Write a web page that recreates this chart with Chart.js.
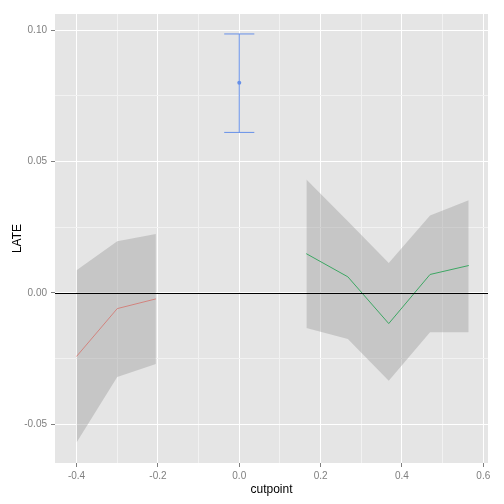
<!DOCTYPE html>
<html>
<head>
<meta charset="utf-8">
<script src="https://cdn.jsdelivr.net/npm/chart.js@4"></script>
<style>
  html, body { margin: 0; padding: 0; background: #ffffff; }
  #wrap { width: 504px; height: 504px; }
</style>
</head>
<body>
<div id="wrap"><canvas id="lateChart" width="504" height="504"></canvas></div>
<script>
// Left segment (red)
const leftX = [-0.4, -0.3, -0.205];
const leftLate = [-0.0242, -0.0060, -0.0023];
const leftUpper = [0.0086, 0.0197, 0.0224];
const leftLower = [-0.0570, -0.0320, -0.0271];

// Right segment (green)
const rightX = [0.165, 0.267, 0.3675, 0.469, 0.564];
const rightLate = [0.0149, 0.0061, -0.0117, 0.0070, 0.0104];
const rightUpper = [0.0432, 0.0273, 0.0114, 0.0295, 0.0353];
const rightLower = [-0.0134, -0.0176, -0.0335, -0.0150, -0.0150];

// Point estimate at the cutoff (blue)
const pointX = [0];
const pointLate = [0.0800];
const pointUpper = [0.0986];
const pointLower = [0.0611];
const capHalfWidth = 0.037;

// Axis ticks
const xMajor = [-0.4, -0.2, 0.0, 0.2, 0.4, 0.6];
const xMinor = [-0.3, -0.1, 0.1, 0.3, 0.5];
const yMajor = [-0.05, 0.00, 0.05, 0.10];
const yMinor = [-0.025, 0.025, 0.075];

const red = '#F8766D';
const green = '#00B040';
const blue = '#6790E8';
const ribbon = 'rgba(153, 153, 153, 0.4)';

function toPoints(xs, ys) {
  return xs.map((x, i) => ({ x: x, y: ys[i] }));
}

function isMajor(list, v) {
  return list.some(m => Math.abs(m - v) < 1e-9);
}

function lineSet(data, color, extra) {
  return Object.assign({
    data: data,
    borderColor: color,
    backgroundColor: color,
    borderWidth: 1,
    pointRadius: 0,
    fill: false,
    tension: 0
  }, extra || {});
}

// Error bar pieces built from the point arrays
const errorBars = [];
pointX.forEach((x, i) => {
  errorBars.push(lineSet([{ x: x, y: pointLower[i] }, { x: x, y: pointUpper[i] }], blue));
  errorBars.push(lineSet([{ x: x - capHalfWidth, y: pointUpper[i] }, { x: x + capHalfWidth, y: pointUpper[i] }], blue));
  errorBars.push(lineSet([{ x: x - capHalfWidth, y: pointLower[i] }, { x: x + capHalfWidth, y: pointLower[i] }], blue));
});

const datasets = [
  lineSet(toPoints(leftX, leftUpper), 'transparent', { borderWidth: 0, fill: '+1', backgroundColor: ribbon }),
  lineSet(toPoints(leftX, leftLower), 'transparent', { borderWidth: 0 }),
  lineSet(toPoints(rightX, rightUpper), 'transparent', { borderWidth: 0, fill: '+1', backgroundColor: ribbon }),
  lineSet(toPoints(rightX, rightLower), 'transparent', { borderWidth: 0 }),
  lineSet(toPoints(leftX, leftLate), red),
  lineSet(toPoints(rightX, rightLate), green),
  ...errorBars,
  lineSet(toPoints(pointX, pointLate), blue, { showLine: false, pointRadius: 2, pointBorderWidth: 0 })
];

// Grey panel behind everything, black reference line at zero on top
const panelPlugin = {
  id: 'panel',
  beforeDraw(chart) {
    const a = chart.chartArea;
    const c = chart.ctx;
    c.save();
    c.fillStyle = '#E5E5E5';
    c.fillRect(a.left, a.top, a.right - a.left, a.bottom - a.top);
    c.restore();
  },
  afterDatasetsDraw(chart) {
    const a = chart.chartArea;
    const c = chart.ctx;
    const y0 = Math.round(chart.scales.y.getPixelForValue(0)) + 0.5;
    c.save();
    c.strokeStyle = '#000000';
    c.lineWidth = 1;
    c.beginPath();
    c.moveTo(a.left, y0);
    c.lineTo(a.right, y0);
    c.stroke();
    c.restore();
  }
};

const tickFont = { family: 'Liberation Sans, Arial, sans-serif', size: 10 };
const titleFont = { family: 'Liberation Sans, Arial, sans-serif', size: 12 };

new Chart(document.getElementById('lateChart').getContext('2d'), {
  type: 'line',
  data: { datasets: datasets },
  plugins: [panelPlugin],
  options: {
    responsive: false,
    animation: false,
    events: [],
    layout: { padding: { top: 14, right: 16, left: 0, bottom: 0 } },
    plugins: {
      legend: { display: false },
      tooltip: { enabled: false }
    },
    scales: {
      x: {
        type: 'linear',
        min: -0.453,
        max: 0.6115,
        afterBuildTicks: s => {
          s.ticks = xMajor.concat(xMinor).sort((a, b) => a - b).map(v => ({ value: v }));
        },
        afterFit: s => { s.height = 41; },
        border: { display: false },
        grid: {
          color: ctx => isMajor(xMajor, ctx.tick.value) ? '#FFFFFF' : '#F2F2F2',
          tickColor: ctx => isMajor(xMajor, ctx.tick.value) ? '#7F7F7F' : 'transparent',
          lineWidth: 1,
          tickLength: 4
        },
        ticks: {
          autoSkip: false,
          maxRotation: 0,
          padding: 3,
          color: '#7F7F7F',
          font: tickFont,
          callback: v => isMajor(xMajor, v) ? v.toFixed(1) : ''
        },
        title: {
          display: true,
          text: 'cutpoint',
          color: '#000000',
          font: titleFont,
          padding: { top: 0, bottom: 7 }
        }
      },
      y: {
        type: 'linear',
        min: -0.0648,
        max: 0.1062,
        afterBuildTicks: s => {
          s.ticks = yMajor.concat(yMinor).sort((a, b) => a - b).map(v => ({ value: v }));
        },
        afterFit: s => { s.width = 55; },
        border: { display: false },
        grid: {
          color: ctx => isMajor(yMajor, ctx.tick.value) ? '#FFFFFF' : '#F2F2F2',
          tickColor: ctx => isMajor(yMajor, ctx.tick.value) ? '#7F7F7F' : 'transparent',
          lineWidth: 1,
          tickLength: 4
        },
        ticks: {
          autoSkip: false,
          padding: 4,
          color: '#7F7F7F',
          font: tickFont,
          callback: v => isMajor(yMajor, v) ? v.toFixed(2) : ''
        },
        title: {
          display: true,
          text: 'LATE',
          color: '#000000',
          font: titleFont,
          padding: { top: 10, bottom: 0 }
        }
      }
    }
  }
});
</script>
</body>
</html>
